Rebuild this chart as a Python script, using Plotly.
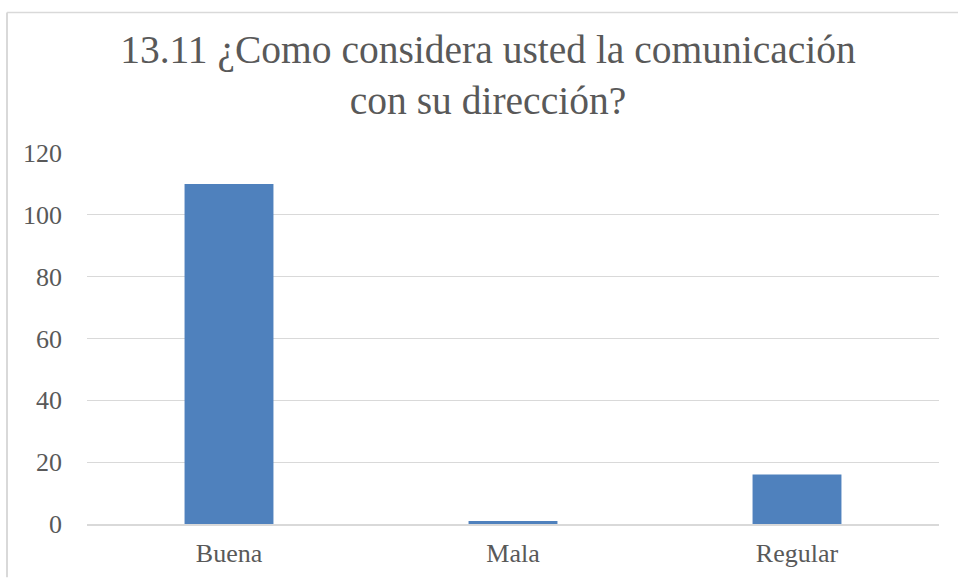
import plotly.graph_objects as go

# Survey answers and response counts
categories = ["Buena", "Mala", "Regular"]
counts = [110, 1, 16]
y_ticks = [0, 20, 40, 60, 80, 100, 120]

title_text = "13.11 ¿Como considera usted la comunicación<br>con su dirección?"

text_color = "#595959"
grid_color = "#d9d9d9"
bar_color = "#4f81bd"
font_family = "Liberation Serif, Times New Roman, serif"

fig = go.Figure(
    go.Bar(
        x=categories,
        y=counts,
        marker=dict(color=bar_color, line=dict(width=0)),
        width=0.313,
    )
)

fig.update_layout(
    width=958,
    height=580,
    paper_bgcolor="white",
    plot_bgcolor="white",
    margin=dict(l=87, r=19, t=152.5, b=53.7),
    showlegend=False,
    font=dict(family=font_family, color=text_color, size=26),
    title=dict(
        text=title_text,
        x=488 / 958,
        xref="container",
        xanchor="center",
        y=1 - 63 / 580,
        yref="container",
        yanchor="top",
        font=dict(family=font_family, size=39.5, color=text_color),
    ),
)

fig.update_yaxes(
    range=[0, 120],
    tickvals=y_ticks,
    showgrid=True,
    gridcolor=grid_color,
    gridwidth=1.3,
    zeroline=False,
    showline=False,
    ticks="",
    ticklabelstandoff=24,
    tickfont=dict(size=26, color=text_color),
)

fig.update_xaxes(
    showgrid=False,
    showline=True,
    linecolor=grid_color,
    linewidth=1.5,
    ticks="",
    ticklabelstandoff=5,
    tickfont=dict(size=26, color=text_color),
)

# Chart-area frame (left and top edges)
fig.add_shape(type="line", xref="x domain", yref="y domain",
              x0=(7 - 87) / 852, x1=(7 - 87) / 852,
              y0=(526.3 - 580) / 373.8, y1=(526.3 - 11) / 373.8,
              line=dict(color=grid_color, width=2))
fig.add_shape(type="line", xref="x domain", yref="y domain",
              x0=(7 - 87) / 852, x1=(960 - 87) / 852,
              y0=(526.3 - 11) / 373.8, y1=(526.3 - 11) / 373.8,
              line=dict(color=grid_color, width=1.5))

fig.write_html("out.html")
